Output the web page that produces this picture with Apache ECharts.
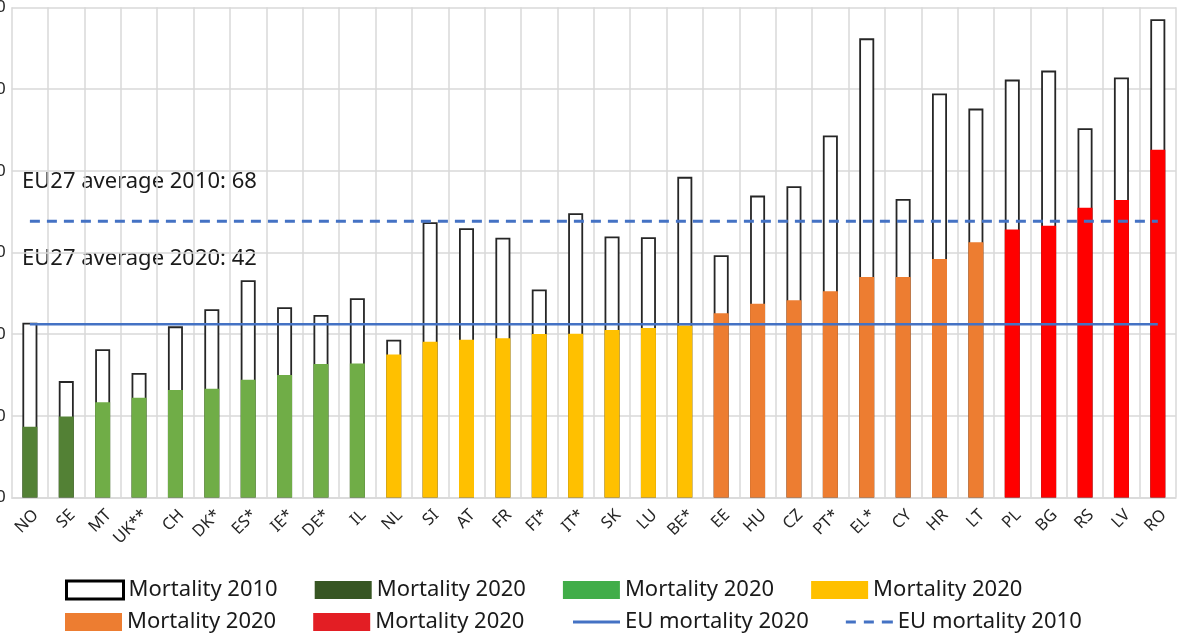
<!DOCTYPE html>
<html>
<head>
<meta charset="utf-8">
<script src="https://cdn.jsdelivr.net/npm/echarts@6/dist/echarts.min.js"></script>
<style>
html,body{margin:0;padding:0;background:#fff;}
#chart{width:1188px;height:637px;}
</style>
</head>
<body>
<div id="chart"></div>
<script>
const categories = ['NO','SE','MT','UK**','CH','DK*','ES*','IE*','DE*','IL','NL','SI','AT','FR','FI*','IT*','SK','LU','BE*','EE','HU','CZ','PT*','EL*','CY','HR','LT','PL','BG','RS','LV','RO'];
const mortality2010 = [42.8,28.5,36.3,30.5,41.9,46.1,53.2,46.6,44.7,48.8,38.6,67.4,65.9,63.6,50.9,69.6,63.9,63.7,78.5,59.3,73.9,76.2,88.6,112.4,73.1,98.9,95.2,102.3,104.5,90.4,102.8,117.1];
const mortality2020 = [17.3,19.8,23.3,24.4,26.3,26.6,28.8,30.0,32.7,32.8,35.0,38.1,38.6,39.0,40.0,40.1,41.0,41.5,42.1,45.1,47.4,48.3,50.5,54.0,54.0,58.4,62.5,65.6,66.5,70.9,72.8,85.1];
// colour group of each country's 2020 bar (0 dark green, 1 green, 2 yellow, 3 orange, 4 red)
const group2020 = [0,0,1,1,1,1,1,1,1,1,2,2,2,2,2,2,2,2,2,3,3,3,3,3,3,3,3,4,4,4,4,4];
const euAvg2020 = 42.4;
const euAvg2010 = 67.6;
const euAvg2020Label = 42;
const euAvg2010Label = 68;
const yTicks = [0,20,40,60,80,100,120];

const barColors = ['#538135','#70AD47','#FFC000','#ED7D31','#FF0000'];
const legendColors = ['#375623','#41AD49','#FFC000','#ED7D31','#E31E24'];
const FONT = 'Noto Sans';

const chart = echarts.init(document.getElementById('chart'), null, {renderer:'canvas'});

// distinct internal names (zero-width spaces) so each colour group has its own legend entry
const names2020 = ['Mortality 2020','Mortality 2020\u200b','Mortality 2020\u200b\u200b','Mortality 2020\u200b\u200b\u200b','Mortality 2020\u200b\u200b\u200b\u200b'];

const series = [{
  name:'Mortality 2010', type:'bar', barWidth:15, barGap:'-100%',
  data: mortality2010,
  itemStyle:{color:'#ffffff', borderColor:'#262626', borderWidth:1.8},
  z:2
}];
barColors.forEach((c,g)=>{
  series.push({
    name:names2020[g], type:'bar', barWidth:15, barGap:'-100%',
    data: mortality2020.map((v,i)=> group2020[i]===g ? v : '-'),
    itemStyle:{color:c},
    z:3
  });
});
series.push({
  name:'EU mortality 2020', type:'line', symbol:'none',
  data: categories.map(()=>euAvg2020),
  lineStyle:{color:'#4472C4', width:2.5, type:'solid'}, itemStyle:{color:'#4472C4'}, z:5
});
series.push({
  name:'EU mortality 2010', type:'line', symbol:'none',
  data: categories.map(()=>euAvg2010),
  lineStyle:{color:'#4472C4', width:3, type:[10,7]}, itemStyle:{color:'#4472C4'}, z:5
});

const legText = {fontFamily:FONT, fontSize:22, color:'#1a1a1a'};
const option = {
  animation:false,
  textStyle:{fontFamily:FONT},
  grid:{left:11.7, right:12, top:7.3, bottom:139.5, containLabel:false, outerBoundsMode:'none'},
  xAxis:{
    type:'category', data:categories, boundaryGap:true,
    axisLine:{lineStyle:{color:'#d9d9d9', width:1.5}},
    axisTick:{show:false},
    splitLine:{show:true, interval:0, lineStyle:{color:'#d9d9d9', width:1.5}},
    axisLabel:{interval:0, rotate:45, fontSize:16.5, color:'#262626', fontFamily:FONT, margin:9, verticalAlign:'top'}
  },
  yAxis:{
    type:'value', min:yTicks[0], max:yTicks[yTicks.length-1], interval:20,
    axisLine:{show:false}, axisTick:{show:false},
    splitLine:{lineStyle:{color:'#d9d9d9', width:1.5}},
    axisLabel:{fontSize:17, color:'#262626', fontFamily:FONT, margin:6}
  },
  legend:[
    {left:65, top:579, padding:0, itemWidth:57, itemHeight:18, itemGap:37, textStyle:legText, icon:'rect',
     data:[
      {name:'Mortality 2010', itemStyle:{color:'#fff', borderColor:'#000', borderWidth:3}},
      {name:names2020[0], itemStyle:{color:legendColors[0]}},
      {name:names2020[1], itemStyle:{color:legendColors[1]}},
      {name:names2020[2], itemStyle:{color:legendColors[2]}}
     ]},
    {left:65, top:611, padding:0, itemWidth:57, itemHeight:18, itemGap:37, textStyle:legText, icon:'rect',
     data:[
      {name:names2020[3], itemStyle:{color:legendColors[3]}},
      {name:names2020[4], itemStyle:{color:legendColors[4]}}
     ]},
    {left:573, top:611, padding:0, itemWidth:47, itemHeight:18, itemGap:37, textStyle:legText,
     data:[
      {name:'EU mortality 2020', icon:'path://M0,0h47v3h-47z', itemStyle:{color:'#4472C4'}},
      {name:'EU mortality 2010', icon:'path://M0,0h10v3h-10zM18,0h10v3h-10zM36,0h11v3h-11z', itemStyle:{color:'#4472C4'}}
     ]}
  ],
  graphic:[
    {type:'text', left:22, top:171, style:{text:'EU27 average 2010: '+euAvg2010Label, fontFamily:FONT, fontSize:22, fill:'#1a1a1a'}},
    {type:'text', left:22, top:248, style:{text:'EU27 average 2020: '+euAvg2020Label, fontFamily:FONT, fontSize:22, fill:'#1a1a1a'}}
  ],
  series: series
};
chart.setOption(option);
</script>
</body>
</html>
